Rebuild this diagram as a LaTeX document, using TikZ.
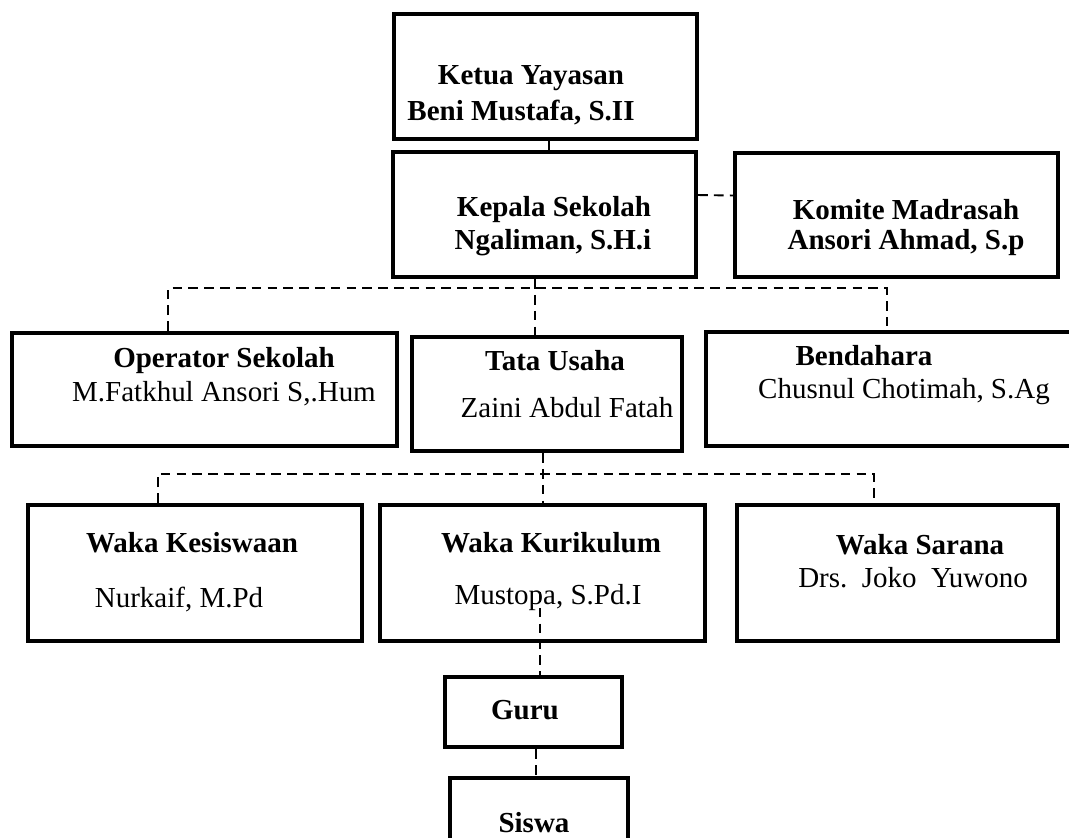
\documentclass[tikz,border=0pt]{standalone}
\usepackage{fontspec}
\setmainfont{Liberation Serif}
\usepackage{tikz}
\usetikzlibrary{positioning}

\begin{document}
\begin{tikzpicture}[x=0.02cm, y=-0.02cm, font=\fontsize{16.5}{19}\selectfont]

\tikzstyle{box}=[rectangle, draw, line width=2.5pt, inner sep=0pt]
\tikzstyle{head}=[font=\fontsize{16.5}{19}\selectfont\bfseries, inner sep=0pt]
\tikzstyle{who}=[inner sep=0pt]
\tikzstyle{link}=[line width=1.1pt, dash pattern=on 5.5pt off 3.5pt]
\tikzstyle{tie}=[line width=0.7pt]

\useasboundingbox (0,0) rectangle (1069,838);
\clip (0,0) rectangle (1069,838);

\node (ketua) [box, minimum width=6.06cm, minimum height=2.5cm] at (545.5,76.5) {};
\node (kepala) [box, minimum width=6.06cm, minimum height=2.5cm] at (544.5,214.5) {};
\node (komite) [box, minimum width=6.46cm, minimum height=2.48cm] at (896.5,215) {};
\node (operator) [box, minimum width=7.7cm, minimum height=2.26cm] at (204.5,389.5) {};
\node (tata) [box, minimum width=5.4cm, minimum height=2.28cm] at (547,394) {};
\node (bendahara) [box, minimum width=7.38cm, minimum height=2.28cm] at (890.5,389) {};
\node (kesiswaan) [box, minimum width=6.68cm, minimum height=2.72cm] at (195,573) {};
\node (kurikulum) [box, minimum width=6.5cm, minimum height=2.72cm] at (542.5,573) {};
\node (sarana) [box, minimum width=6.42cm, minimum height=2.72cm] at (897.5,573) {};
\node (guru) [box, minimum width=3.54cm, minimum height=1.4cm] at (533.5,712) {};
\node (siswa) [box, minimum width=3.56cm, minimum height=1.84cm] at (539,824) {};

\node (ketua-h) [head] at (531,78) {Ketua Yayasan};
\node (ketua-n) [head] at (521,113) {Beni Mustafa, S.II};
\node (kepala-h) [head] at (554,210) {Kepala Sekolah};
\node (kepala-n) [head] at (553,243) {Ngaliman, S.H.i};
\node (komite-h) [head] at (906,210) {Komite Madrasah};
\node (komite-n) [head] at (906,243) {Ansori Ahmad, S.p};
\node (operator-h) [head] at (224,361) {Operator Sekolah};
\node (operator-n) [who] at (224,394) {M.Fatkhul Ansori S,.Hum};
\node (tata-h) [head] at (555,361) {Tata Usaha};
\node (tata-n) [who] at (567,408) {Zaini Abdul Fatah};
\node (bendahara-h) [head] at (864,356) {Bendahara};
\node (bendahara-n) [who] at (904,392) {Chusnul Chotimah, S.Ag};
\node (kesiswaan-h) [head] at (192,543) {Waka Kesiswaan};
\node (kesiswaan-n) [who] at (179,600) {Nurkaif, M.Pd};
\node (kurikulum-h) [head] at (551,543) {Waka Kurikulum};
\node (kurikulum-n) [who] at (548,598) {Mustopa, S.Pd.I};
\node (sarana-h) [head] at (920,545) {Waka Sarana};
\node (sarana-n) [who] at (913,578) {Drs.\ \ Joko\ \ Yuwono};
\node (guru-h) [head] at (525,710) {Guru};
\node (siswa-h) [head] at (534,823) {Siswa};

\coordinate (t1) at (549,145);
\coordinate (j1) at (535,288);
\coordinate (op) at (168,288);
\coordinate (bd) at (887,288);
\coordinate (j2) at (543,474);
\coordinate (ks) at (158,474);
\coordinate (sr) at (874,474);
\coordinate (g1) at (540,592);
\coordinate (g2) at (536,745);

\draw [tie] (t1 |- ketua.south) -- (t1 |- kepala.north);
\draw [link] ([yshift=0.39cm]kepala.east) -- ([yshift=0.39cm]komite.west);
\draw [link] (j1 |- kepala.south) -- (j1 |- tata.north);
\draw [link] (op |- operator.north) -- (op) -- (bd) -- (bd |- bendahara.north);
\draw [link] (j2 |- tata.south) -- (j2 |- kurikulum.north);
\draw [link] (ks |- kesiswaan.north) -- (ks) -- (sr) -- (sr |- sarana.north);
\draw [link] (g1) -- (g1 |- guru.north);
\draw [link] (g2 |- guru.south) -- (g2 |- siswa.north);

\end{tikzpicture}
\end{document}
